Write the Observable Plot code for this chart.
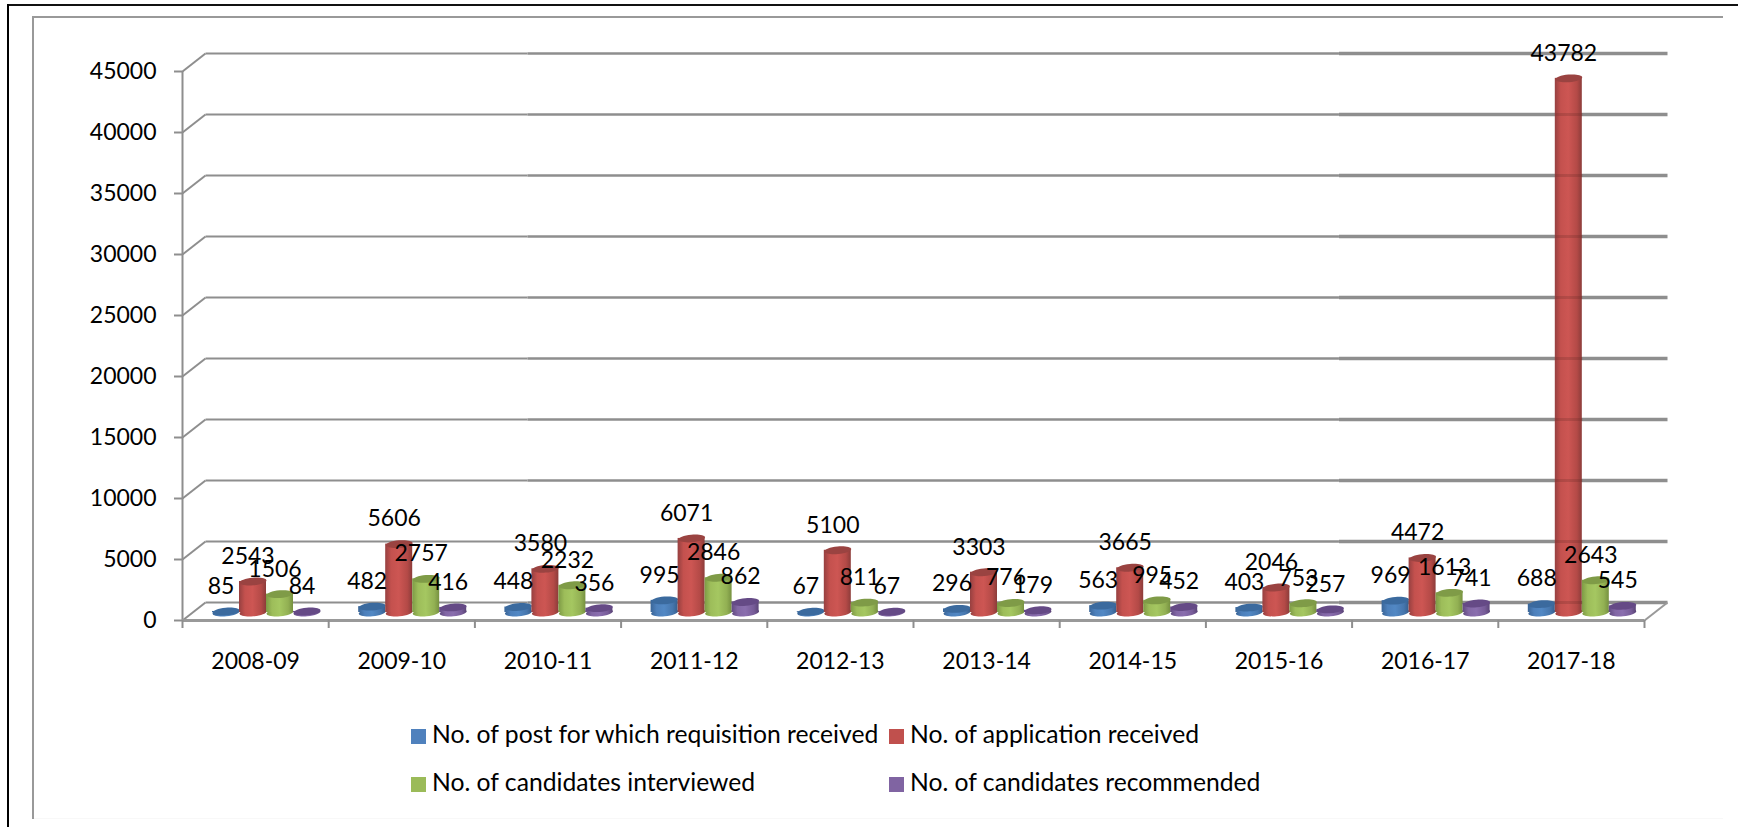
<!DOCTYPE html>
<html>
<head>
<meta charset="utf-8">
<script src="https://cdn.jsdelivr.net/npm/d3@7"></script>
<script src="https://cdn.jsdelivr.net/npm/@observablehq/plot@0.6"></script>
<style>
  html, body { margin: 0; padding: 0; background: #fff; }
  #page { position: relative; width: 1738px; height: 827px; overflow: hidden; font-family: Lato, sans-serif; color: #000; }
  #chart svg { display: block; }
  .frame { position: absolute; }
  #legend { display: grid; grid-template-columns: 478px 1fr; grid-auto-rows: 24px; row-gap: 24px; padding: 24px 0 0 411px; font-size: 24.7px; line-height: 24px; }
  #legend .item { display: flex; align-items: center; white-space: nowrap; }
  #legend i { display: block; width: 15px; height: 15px; margin-right: 6px; flex: none; }
  #legend span { position: relative; top: -2px; }
</style>
</head>
<body>
<div id="page">
  <div class="frame" style="left:7px;top:4px;width:1731px;height:2px;background:#111"></div>
  <div class="frame" style="left:7px;top:4px;width:2px;height:823px;background:#000"></div>
  <div class="frame" style="left:32px;top:16px;width:1691px;height:2px;background:#999"></div>
  <div class="frame" style="left:32px;top:16px;width:2px;height:803px;background:#999"></div>
  <div class="frame" style="left:34px;top:818px;width:1689px;height:1px;background:#f8f8f8"></div>
  <div id="chart"></div>
  <div id="legend"></div>
</div>
<script>
const categories = ["2008-09","2009-10","2010-11","2011-12","2012-13","2013-14","2014-15","2015-16","2016-17","2017-18"];
const posts       = [85,482,448,995,67,296,563,403,969,688];
const applications= [2543,5606,3580,6071,5100,3303,3665,2046,4472,43782];
const interviewed = [1506,2757,2232,2846,811,776,995,753,1613,2643];
const recommended = [84,416,356,862,67,179,452,257,741,545];
const yTicks = [0,5000,10000,15000,20000,25000,30000,35000,40000,45000];
const seriesNames = ["No. of post for which requisition received","No. of application received","No. of candidates interviewed","No. of candidates recommended"];
const seriesValues = [posts, applications, interviewed, recommended];
const swatch = ["#4F81BD","#C0504D","#9BBB59","#8064A2"];
const capColor = ["#3b6a9e","#9a4341","#7f9b47","#654a86"];
const ramps = [
  ["#3a6597","#4d80bb","#5288c4","#4676ad","#37608f"],
  ["#964040","#c4514e","#cd5653","#b44a47","#8c3c3a"],
  ["#7d9a45","#9dbd5a","#a5c761","#92b053","#769140"],
  ["#614a80","#8267a5","#8a6eae","#775c98","#5b4578"]
];

const catPx = 146.2, pxX = 1 / catPx;
const slotStart = 30 * pxX, slotW = 27 * pxX;
const depthX = 23 * pxX, depthY = 1475;
const grey = "#8e8e8e";
const baseDy = -8;

const rows = seriesValues.flatMap((vals, s) => vals.map((v, i) => ({
  s, i, v,
  x1: i + slotStart + s * slotW,
  x2: i + slotStart + (s + 1) * slotW,
  xc: i + slotStart + (s + 0.5) * slotW
})));
const tallest = rows.find(d => d.v === d3.max(applications));

// tilted flat ellipse used for the cylinder ends
const tilt = -5 * Math.PI / 180;
const ellipseSymbol = {
  draw(ctx, size) {
    const rx = Math.sqrt(size / Math.PI), ry = rx * 0.28, k = 0.5523;
    const c = Math.cos(tilt), s = Math.sin(tilt);
    const p = (x, y) => [x * c - y * s, x * s + y * c];
    ctx.moveTo(...p(rx, 0));
    ctx.bezierCurveTo(...p(rx, k * ry), ...p(k * rx, ry), ...p(0, ry));
    ctx.bezierCurveTo(...p(-k * rx, ry), ...p(-rx, k * ry), ...p(-rx, 0));
    ctx.bezierCurveTo(...p(-rx, -k * ry), ...p(-k * rx, -ry), ...p(0, -ry));
    ctx.bezierCurveTo(...p(k * rx, -ry), ...p(rx, -k * ry), ...p(rx, 0));
    ctx.closePath();
  }
};

const defsMark = () => {
  const defs = d3.create("svg:defs");
  ramps.forEach((ramp, s) => {
    const g = defs.append("linearGradient").attr("id", "cyl" + s).attr("x1", 0).attr("x2", 1).attr("y1", 0).attr("y2", 0);
    [0, 0.22, 0.5, 0.82, 1].forEach((o, j) => g.append("stop").attr("offset", o).attr("stop-color", ramp[j]));
  });
  return defs.node();
};

const seams = [[depthX, 2.36, 2], [2.36, 7.91, 2.6], [7.91, 10 + depthX, 3.6]];

const marks = [
  defsMark,
  // back wall gridlines, in three weights
  ...seams.map(([a, b, w]) => Plot.link(yTicks, {x1: () => a, x2: () => b, y1: d => d + depthY, y2: d => d + depthY, stroke: grey, strokeWidth: w})),
  // left wall slants
  Plot.link(yTicks, {x1: () => 0, x2: () => depthX, y1: d => d, y2: d => d + depthY, stroke: grey, strokeWidth: 2}),
  // y axis spine and floor
  Plot.ruleX([0], {y1: 0, y2: 45000, stroke: grey, strokeWidth: 2}),
  Plot.ruleY([0], {x1: 0, x2: 10, stroke: "#999", strokeWidth: 3}),
  Plot.link([0], {x1: () => 10, x2: () => 10 + depthX, y1: () => 0, y2: () => depthY, stroke: "#999", strokeWidth: 2}),
  Plot.axisY({ticks: yTicks, tickSize: 8, tickPadding: 18, tickFormat: d => String(d), stroke: grey, strokeWidth: 2, fontSize: 23, label: null}),
  Plot.axisX({ticks: d3.range(0, 11), tickSize: 8, tickFormat: () => "", stroke: grey, strokeWidth: 2, label: null}),
  Plot.axisX({ticks: d3.range(0, 10).map(d => d + 0.5), tickSize: 0, tickPadding: 32, tickFormat: d => categories[Math.floor(d)], fontSize: 23, label: null}),
  // cylinders, left to right
  ...[0, 1, 2, 3].flatMap(s => {
    const data = rows.filter(d => d.s === s);
    const fill = `url(#cyl${s})`;
    return [
      Plot.dot(data, {x: "xc", y: () => 0, r: 13.5, symbol: ellipseSymbol, fill, dy: baseDy}),
      Plot.rect(data, {x1: "x1", x2: "x2", y1: () => 0, y2: "v", fill, dy: baseDy}),
      Plot.dot(data, {x: "xc", y: "v", r: 13.5, symbol: ellipseSymbol, fill: capColor[s], dy: baseDy})
    ];
  }),
  // gridlines showing faintly through the tallest cylinder
  Plot.link(yTicks.filter(t => t + depthY < tallest.v), {x1: () => tallest.x1, x2: () => tallest.x2, y1: d => d + depthY, y2: d => d + depthY, stroke: "#5a2422", strokeOpacity: 0.22, strokeWidth: 3}),
  Plot.text(rows, {x: "xc", y: "v", text: d => String(d.v), dx: -5, dy: baseDy - 25, fontSize: 23, fill: "#000", textAnchor: "middle", lineAnchor: "middle"})
];

const chart = Plot.plot({
  width: 1738,
  height: 700,
  marginLeft: 182,
  marginRight: 94,
  marginTop: 71,
  marginBottom: 80,
  style: {fontFamily: "Lato, sans-serif", background: "transparent", overflow: "visible"},
  x: {type: "linear", domain: [0, 10]},
  y: {type: "linear", domain: [0, 45000]},
  marks
});
document.getElementById("chart").appendChild(chart);

const legend = document.getElementById("legend");
seriesNames.forEach((name, s) => {
  const item = document.createElement("div");
  item.className = "item";
  const sw = document.createElement("i");
  sw.style.background = swatch[s];
  const t = document.createElement("span");
  t.textContent = name;
  item.append(sw, t);
  legend.appendChild(item);
});
</script>
</body>
</html>
